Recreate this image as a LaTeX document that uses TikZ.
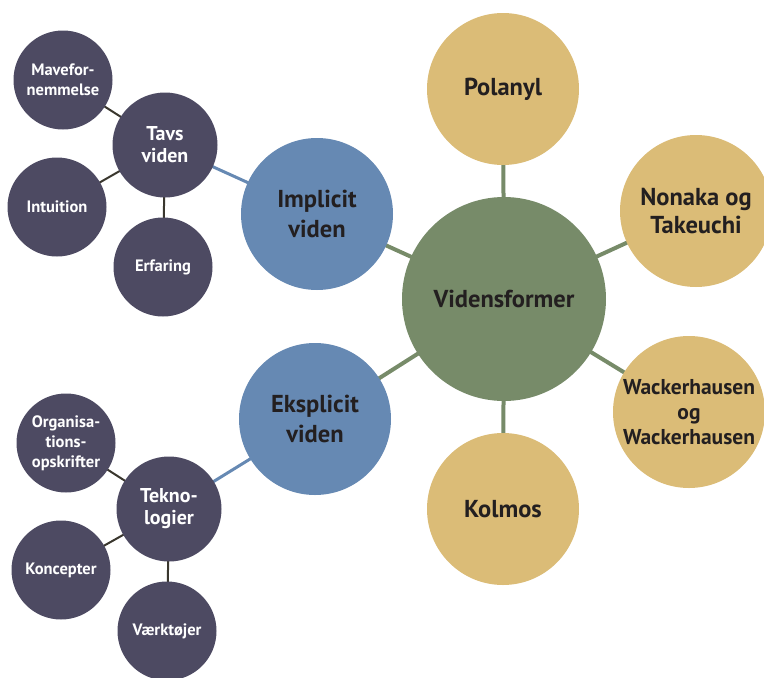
\documentclass[tikz,border=0pt]{standalone}
\usepackage{fontspec}
\setmainfont{PT Sans}
\usetikzlibrary{backgrounds}
\definecolor{cpurple}{HTML}{4D4A62}
\definecolor{cblue}{HTML}{6689B3}
\definecolor{cgreen}{HTML}{778B69}
\definecolor{cgold}{HTML}{DBBC77}
\definecolor{ctext}{HTML}{231F20}
\definecolor{cdark}{HTML}{3A372E}
\tikzset{
  bubble/.style={circle, inner sep=0pt, align=center, font=\bfseries},
  bigc/.style={bubble, fill=cgreen, text=ctext, minimum size=204pt, font=\bfseries\fontsize{24.5}{28}\selectfont},
  goldc/.style={bubble, fill=cgold, text=ctext, minimum size=152pt, font=\bfseries\fontsize{24.5}{28}\selectfont},
  bluec/.style={bubble, fill=cblue, text=ctext, minimum size=152pt, font=\bfseries\fontsize{24.5}{30}\selectfont},
  midc/.style={bubble, fill=cpurple, text=white, minimum size=105pt, font=\bfseries\fontsize{20}{22}\selectfont},
  smallc/.style={bubble, fill=cpurple, text=white, minimum size=99pt, font=\bfseries\fontsize{16.5}{20}\selectfont},
  gline/.style={draw=cgreen, line width=4pt},
  bline/.style={draw=cblue, line width=3pt},
  dline/.style={draw=cdark, line width=2pt},
}
\begin{document}
\begin{tikzpicture}[x=1pt, y=-1pt]
\useasboundingbox (0,0) rectangle (764,678);
\node[bigc] (vid) at (504,299) {Vidensformer};
\node[goldc] (pol) at (503,89) {Polanyl};
\node[goldc] (non) at (696,211) {Nonaka og\\Takeuchi};
\node[goldc, font=\bfseries\fontsize{21.5}{25}\selectfont] (wac) at (689,412) {Wackerhausen\\og\\Wackerhausen};
\node[goldc] (kol) at (503,509) {Kolmos};
\node[bluec] (imp) at (317,214) {Implicit\\viden};
\node[bluec] (eks) at (315,419) {Eksplicit\\viden};
\node[midc] (tavs) at (165,145) {Tavs\\viden};
\node[midc] (tek) at (169,509) {Tekno-\\logier};
\node[smallc] (mave) at (63,80) {Mavefor-\\nemmelse};
\node[smallc] (int) at (57,207) {Intuition};
\node[smallc] (erf) at (163,267) {Erfaring};
\node[smallc] (org) at (66,443) {Organisa-\\tions-\\opskrifter};
\node[smallc] (kon) at (61,570) {Koncepter};
\node[smallc] (vae) at (167,631) {Værktøjer};
\begin{pgfonlayer}{background}
\draw[gline] (vid.center) -- (pol.center);
\draw[gline] (vid.center) -- (non.center);
\draw[gline] (vid.center) -- (wac.center);
\draw[gline] (vid.center) -- (kol.center);
\draw[gline] (vid.center) -- (imp.center);
\draw[gline] (vid.center) -- (eks.center);
\draw[bline] (imp.center) -- (tavs.center);
\draw[bline] (eks.center) -- (tek.center);
\draw[dline] (tavs.center) -- (mave.center);
\draw[dline] (tavs.center) -- (int.center);
\draw[dline] (tavs.center) -- (erf.center);
\draw[dline] (tek.center) -- (org.center);
\draw[dline] (tek.center) -- (kon.center);
\draw[dline] (tek.center) -- (vae.center);
\end{pgfonlayer}
\end{tikzpicture}
\end{document}
